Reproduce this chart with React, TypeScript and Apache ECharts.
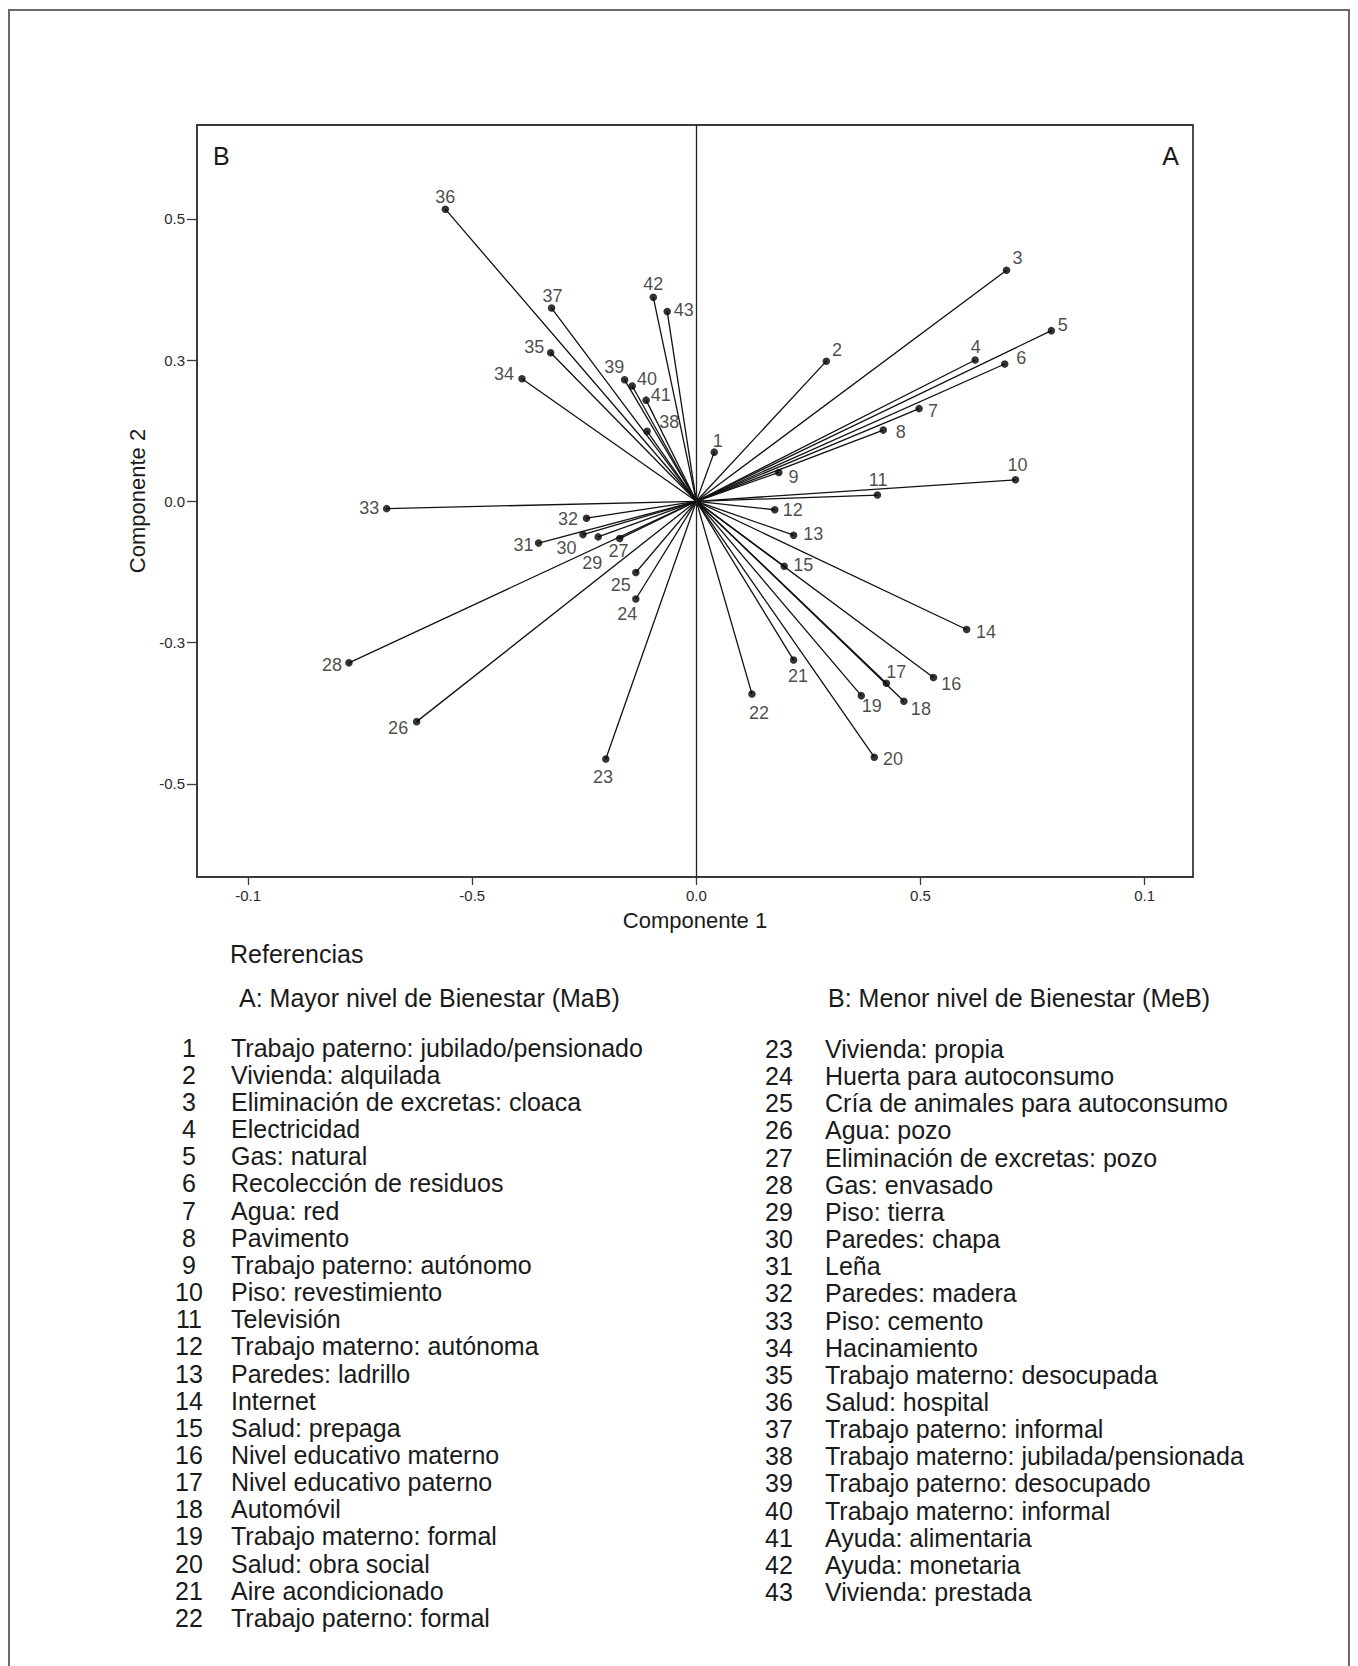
import React, { useEffect, useRef } from "react";
import * as echarts from "echarts";

// ---- data ----
const COMP1 = [0.040, 0.290, 0.692, 0.622, 0.792, 0.688, 0.497, 0.417, 0.184, 0.712, 0.404, 0.175, 0.217, 0.603, 0.196, 0.529, 0.424, 0.463, 0.368, 0.397, 0.217, 0.124, -0.202, -0.135, -0.135, -0.624, -0.171, -0.775, -0.219, -0.253, -0.352, -0.245, -0.691, -0.389, -0.325, -0.560, -0.323, -0.110, -0.160, -0.143, -0.112, -0.096, -0.065];
const COMP2 = [0.087, 0.248, 0.409, 0.250, 0.302, 0.243, 0.164, 0.126, 0.051, 0.038, 0.011, -0.015, -0.060, -0.227, -0.115, -0.312, -0.322, -0.354, -0.344, -0.453, -0.281, -0.341, -0.456, -0.173, -0.126, -0.390, -0.066, -0.286, -0.063, -0.059, -0.074, -0.030, -0.013, 0.217, 0.263, 0.517, 0.342, 0.124, 0.215, 0.204, 0.179, 0.361, 0.336];

const NAMES_A = [
  "Trabajo paterno: jubilado/pensionado",
  "Vivienda: alquilada",
  "Eliminación de excretas: cloaca",
  "Electricidad",
  "Gas: natural",
  "Recolección de residuos",
  "Agua: red",
  "Pavimento",
  "Trabajo paterno: autónomo",
  "Piso: revestimiento",
  "Televisión",
  "Trabajo materno: autónoma",
  "Paredes: ladrillo",
  "Internet",
  "Salud: prepaga",
  "Nivel educativo materno",
  "Nivel educativo paterno",
  "Automóvil",
  "Trabajo materno: formal",
  "Salud: obra social",
  "Aire acondicionado",
  "Trabajo paterno: formal",
];
const NAMES_B = [
  "Vivienda: propia",
  "Huerta para autoconsumo",
  "Cría de animales para autoconsumo",
  "Agua: pozo",
  "Eliminación de excretas: pozo",
  "Gas: envasado",
  "Piso: tierra",
  "Paredes: chapa",
  "Leña",
  "Paredes: madera",
  "Piso: cemento",
  "Hacinamiento",
  "Trabajo materno: desocupada",
  "Salud: hospital",
  "Trabajo paterno: informal",
  "Trabajo materno: jubilada/pensionada",
  "Trabajo paterno: desocupado",
  "Trabajo materno: informal",
  "Ayuda: alimentaria",
  "Ayuda: monetaria",
  "Vivienda: prestada",
];

const X_TICKS = [-1, -0.5, 0, 0.5, 1];
const X_TICK_LABELS = ["-0.1", "-0.5", "0.0", "0.5", "0.1"];
const Y_TICKS = [-0.5, -0.25, 0, 0.25, 0.5];
const Y_TICK_LABELS = ["-0.5", "-0.3", "0.0", "0.3", "0.5"];

const TITLE_X = "Componente 1";
const TITLE_Y = "Componente 2";
const REF_TITLE = "Referencias";
const HEAD_A = "A: Mayor nivel de Bienestar (MaB)";
const HEAD_B = "B: Menor nivel de Bienestar (MeB)";

// ---- layout / style (label offsets in px from each point) ----
const LABEL_OFFSETS: [number, number][] = [
  [3.6, -11.3], [10.7, -11.5], [11, -12], [0.7, -12.8], [11.4, -5.8], [16.4, -6], [14, 2], [17.5, 2],
  [14.7, 4.6], [2, -14.5], [0.7, -14.8], [18, 0], [19.7, -1.4], [19.3, 2.6], [19, -1.5], [17.8, 6],
  [9.8, -11.2], [17, 7.8], [10.5, 10], [18.8, 1.3], [4.5, 16.4], [7, 19.5], [-2.8, 18], [-8.6, 14.6],
  [-15, 12.3], [-18.5, 6.7], [-1.3, 12], [-17, 2], [-6, 26.3], [-16.4, 12.9], [-15, 2], [-18.4, 0.8],
  [-17.3, -0.7], [-18, -5], [-16.5, -5.7], [0, -12.5], [1, -12.5], [22.3, -9], [-10.4, -12.7], [14.8, -7.2],
  [14.7, -5.3], [0, -13.4], [16.5, -1.6],
];

const FONT = '"Liberation Sans", Arial, Helvetica, sans-serif';
const INK = "#1a1a1a";

function tickLabel(ticks: number[], labels: string[], v: number) {
  for (let i = 0; i < ticks.length; i++) if (Math.abs(ticks[i] - v) < 1e-6) return labels[i];
  return "";
}

export default function App() {
  const ref = useRef<HTMLDivElement>(null);
  useEffect(() => {
    if (!ref.current) return;
    const chart = echarts.init(ref.current, undefined, { renderer: "svg" });

    const points = COMP1.map((x, i) => ({
      name: String(i + 1),
      value: [x, COMP2[i]],
      label: { offset: LABEL_OFFSETS[i] },
    }));
    const vectors = COMP1.map((x, i) => ({ coords: [[0, 0], [x, COMP2[i]]] }));

    const graphics: any[] = [];
    // outer frame
    graphics.push({
      type: "rect",
      shape: { x: 9, y: 10, width: 1340, height: 1700 },
      style: { fill: "none", stroke: "#6a6a6a", lineWidth: 2 },
      silent: true,
    });
    graphics.push({ type: "text", x: 213, y: 156, style: { text: "B", fontSize: 25, fontFamily: FONT, fill: INK, align: "left", verticalAlign: "middle" } });
    graphics.push({ type: "text", x: 1179, y: 156, style: { text: "A", fontSize: 25, fontFamily: FONT, fill: INK, align: "right", verticalAlign: "middle" } });
    graphics.push({ type: "text", x: 230, y: 954, style: { text: REF_TITLE, fontSize: 25, fontFamily: FONT, fill: INK, align: "left", verticalAlign: "middle" } });
    graphics.push({ type: "text", x: 239, y: 998, style: { text: HEAD_A, fontSize: 25, fontFamily: FONT, fill: INK, align: "left", verticalAlign: "middle" } });
    graphics.push({ type: "text", x: 828, y: 998, style: { text: HEAD_B, fontSize: 25, fontFamily: FONT, fill: INK, align: "left", verticalAlign: "middle" } });
    const rowStep = 27.15;
    NAMES_A.forEach((n, i) => {
      const y = 1047.7 + i * rowStep;
      graphics.push({ type: "text", x: 189, y, style: { text: String(i + 1), fontSize: 25, fontFamily: FONT, fill: INK, align: "center", verticalAlign: "middle" } });
      graphics.push({ type: "text", x: 231, y, style: { text: n, fontSize: 25, fontFamily: FONT, fill: INK, align: "left", verticalAlign: "middle" } });
    });
    NAMES_B.forEach((n, i) => {
      const y = 1049 + i * rowStep;
      graphics.push({ type: "text", x: 779, y, style: { text: String(i + 1 + NAMES_A.length), fontSize: 25, fontFamily: FONT, fill: INK, align: "center", verticalAlign: "middle" } });
      graphics.push({ type: "text", x: 825, y, style: { text: n, fontSize: 25, fontFamily: FONT, fill: INK, align: "left", verticalAlign: "middle" } });
    });

    chart.setOption({
      animation: false,
      backgroundColor: "#ffffff",
      grid: { left: 197, top: 125, width: 996, height: 752, show: true, borderColor: "#3a3a3a", borderWidth: 1.8, backgroundColor: "transparent" },
      xAxis: {
        type: "value",
        min: -1.114,
        max: 1.108,
        axisLine: { show: true, onZero: false, lineStyle: { color: "#3a3a3a", width: 1.8 } },
        axisTick: { show: true, inside: false, length: 8, customValues: X_TICKS, lineStyle: { color: "#3a3a3a", width: 1.3 } },
        axisLabel: { customValues: X_TICKS, formatter: (v: number) => tickLabel(X_TICKS, X_TICK_LABELS, v), color: "#2a2a2a", fontSize: 15, fontFamily: FONT, margin: 11 },
        splitLine: { show: false },
        name: TITLE_X,
        nameLocation: "middle",
        nameGap: 32,
        nameTextStyle: { fontSize: 22, color: INK, fontFamily: FONT },
      },
      yAxis: {
        type: "value",
        min: -0.665,
        max: 0.666,
        axisLine: { show: true, onZero: false, lineStyle: { color: "#3a3a3a", width: 1.8 } },
        axisTick: { show: true, inside: false, length: 10, customValues: Y_TICKS, lineStyle: { color: "#3a3a3a", width: 1.3 } },
        axisLabel: { customValues: Y_TICKS, formatter: (v: number) => tickLabel(Y_TICKS, Y_TICK_LABELS, v), color: "#2a2a2a", fontSize: 15, fontFamily: FONT, margin: 12 },
        splitLine: { show: false },
        name: TITLE_Y,
        nameLocation: "middle",
        nameGap: 48,
        nameTextStyle: { fontSize: 22, color: INK, fontFamily: FONT },
      },
      series: [
        {
          type: "lines",
          coordinateSystem: "cartesian2d",
          silent: true,
          z: 2,
          lineStyle: { color: "#111111", width: 1.3, opacity: 1, curveness: 0 },
          data: vectors,
          markLine: {
            silent: true,
            symbol: ["none", "none"],
            label: { show: false },
            lineStyle: { color: "#222222", width: 1.3, type: "solid" },
            data: [{ xAxis: 0 }],
          },
        },
        {
          type: "scatter",
          silent: true,
          z: 3,
          symbol: "circle",
          symbolSize: 7.5,
          itemStyle: { color: "#000000" },
          label: {
            show: true,
            position: "inside",
            formatter: (p: any) => p.name,
            fontSize: 18,
            fontFamily: FONT,
            color: INK,
          },
          data: points,
        },
      ],
      graphic: graphics,
    });
    return () => chart.dispose();
  }, []);
  return (
    <div style={{ position: "absolute", left: 0, top: 0, width: 1358, height: 1666, background: "#fff" }}>
      <div ref={ref} style={{ width: 1358, height: 1666 }} />
    </div>
  );
}
